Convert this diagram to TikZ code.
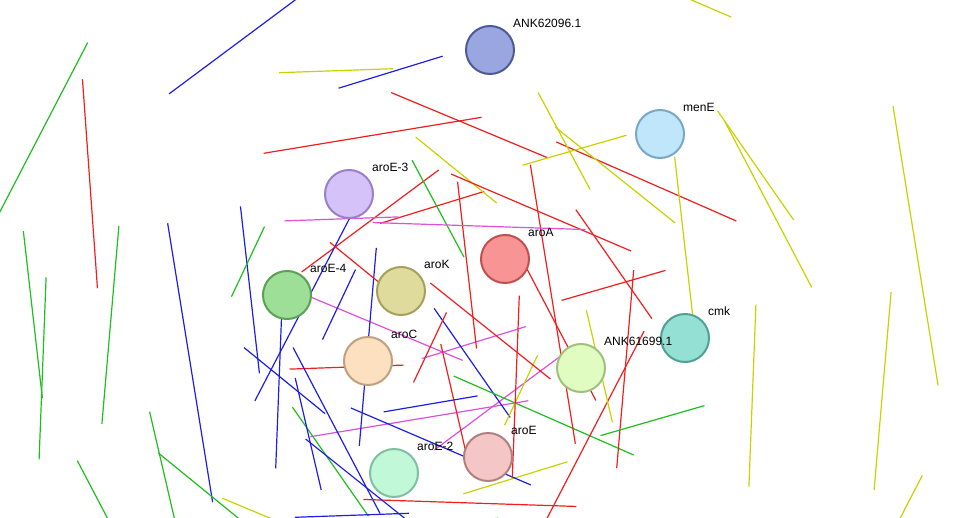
\documentclass[tikz,border=0pt]{standalone}
\usepackage{fontspec}
\setmainfont{Liberation Sans}
\usetikzlibrary{calc,backgrounds}
\definecolor{tm}{RGB}{200,210,0}
\definecolor{nb}{RGB}{30,190,30}
\definecolor{co}{RGB}{30,30,230}
\definecolor{fu}{RGB}{240,30,30}
\definecolor{ex}{RGB}{220,80,220}
\definecolor{fANK2}{HTML}{9AA6E0}\definecolor{dANK2}{HTML}{4D5A9A}
\definecolor{fMENE}{HTML}{BFE6FB}\definecolor{dMENE}{HTML}{78A8C6}
\definecolor{fAROE3}{HTML}{D4C2F8}\definecolor{dAROE3}{HTML}{9A80C8}
\definecolor{fAROA}{HTML}{F99494}\definecolor{dAROA}{HTML}{C05050}
\definecolor{fAROE4}{HTML}{9EDF98}\definecolor{dAROE4}{HTML}{5AA055}
\definecolor{fAROK}{HTML}{DEDB9C}\definecolor{dAROK}{HTML}{A5A15A}
\definecolor{fAROC}{HTML}{FDE0C0}\definecolor{dAROC}{HTML}{C0A080}
\definecolor{fANK1}{HTML}{E0FCC0}\definecolor{dANK1}{HTML}{A0C080}
\definecolor{fCMK}{HTML}{95E0D5}\definecolor{dCMK}{HTML}{50A095}
\definecolor{fAROE}{HTML}{F5C6C6}\definecolor{dAROE}{HTML}{B08080}
\definecolor{fAROE2}{HTML}{C0F8D8}\definecolor{dAROE2}{HTML}{80C0A0}
\tikzset{every picture/.style={line width=0.75pt}}
\tikzset{
  prot/.style={circle, minimum size=36, inner sep=0pt, fill=f#1, draw=d#1, line width=1.5pt},
  lbl/.style={anchor=west, inner sep=0.75pt, font=\fontsize{9}{10}\selectfont},
  ev/.style={line width=0.9pt}
}
\newcommand\link[3]{%
  \foreach \c [count=\i] in {#3} {%
    \draw[ev, \c] ($(#1)!{(\i-2.5)*1.3}!90:(#2)$) -- ($(#2)!{(\i-2.5)*1.3}!-90:(#1)$);}}

\begin{document}
\begin{tikzpicture}[x=0.75pt,y=0.75pt,yscale=-1,xscale=1]
\useasboundingbox (0,0) rectangle (976,518);

% Proteins
\node[prot=ANK2] (ank2) at (490,50) {};
\node[prot=MENE] (menE) at (660,134) {};
\node[prot=AROE3] (aroE3) at (349,194) {};
\node[prot=AROA] (aroA) at (505,259) {};
\node[prot=AROE4] (aroE4) at (287,295) {};
\node[prot=AROK] (aroK) at (401,291) {};
\node[prot=AROC] (aroC) at (368,361) {};
\node[prot=ANK1] (ank1) at (581,368) {};
\node[prot=CMK] (cmk) at (685,338) {};
\node[prot=AROE] (aroE) at (488,457) {};
\node[prot=AROE2] (aroE2) at (394,473) {};

% Labels
\node[lbl] (l-ank2) at ([shift={(4,-9)}]ank2.north east) {ANK62096.1};
\node[lbl] (l-menE) at ([shift={(4,-9)}]menE.north east) {menE};
\node[lbl] (l-aroE3) at ([shift={(4,-9)}]aroE3.north east) {aroE-3};
\node[lbl] (l-aroA) at ([shift={(4,-9)}]aroA.north east) {aroA};
\node[lbl] (l-aroE4) at ([shift={(4,-9)}]aroE4.north east) {aroE-4};
\node[lbl] (l-aroK) at ([shift={(4,-9)}]aroK.north east) {aroK};
\node[lbl] (l-aroC) at ([shift={(4,-9)}]aroC.north east) {aroC};
\node[lbl] (l-ank1) at ([shift={(4,-9)}]ank1.north east) {ANK61699.1};
\node[lbl] (l-cmk) at ([shift={(4,-9)}]cmk.north east) {cmk};
\node[lbl] (l-aroE) at ([shift={(4,-9)}]aroE.north east) {aroE};
\node[lbl] (l-aroE2) at ([shift={(4,-9)}]aroE2.north east) {aroE-2};

% Evidence links
\begin{scope}[on background layer]
\link{aroA}{ank2}{fu}
\link{aroA}{menE}{fu}
\link{aroA}{aroE3}{tm,ex,fu,co,nb}
\link{aroA}{aroE4}{tm,ex,fu,co,nb}
\link{aroA}{aroK}{tm,ex,fu,co,nb}
\link{aroA}{aroC}{tm,ex,fu,co,nb}
\link{aroA}{ank1}{tm,fu,co,nb}
\link{aroA}{cmk}{tm,fu,nb}
\link{aroA}{aroE}{tm,fu,co,nb}
\link{aroA}{aroE2}{tm,fu,co,nb}
\link{aroE3}{aroK}{tm,nb}
\link{aroE3}{aroC}{tm,fu,co,nb}
\link{aroE3}{aroE2}{tm,fu,co,nb}
\link{aroE4}{aroK}{tm,ex,fu,co,nb}
\link{aroE4}{aroC}{tm,fu,co,nb}
\link{aroK}{aroC}{tm,fu,co,nb}
\link{aroK}{ank1}{tm,fu,co,nb}
\link{aroK}{aroE}{tm,fu,co,nb}
\link{aroK}{aroE2}{tm,fu,co,nb}
\link{aroC}{ank1}{tm,ex,fu,co,nb}
\link{aroC}{aroE}{tm,fu,co,nb}
\link{aroC}{aroE2}{tm,fu,co,nb}
\link{ank1}{cmk}{tm,fu,nb}
\link{aroE}{aroE2}{tm,nb,co}
\end{scope}
\end{tikzpicture}
\end{document}
